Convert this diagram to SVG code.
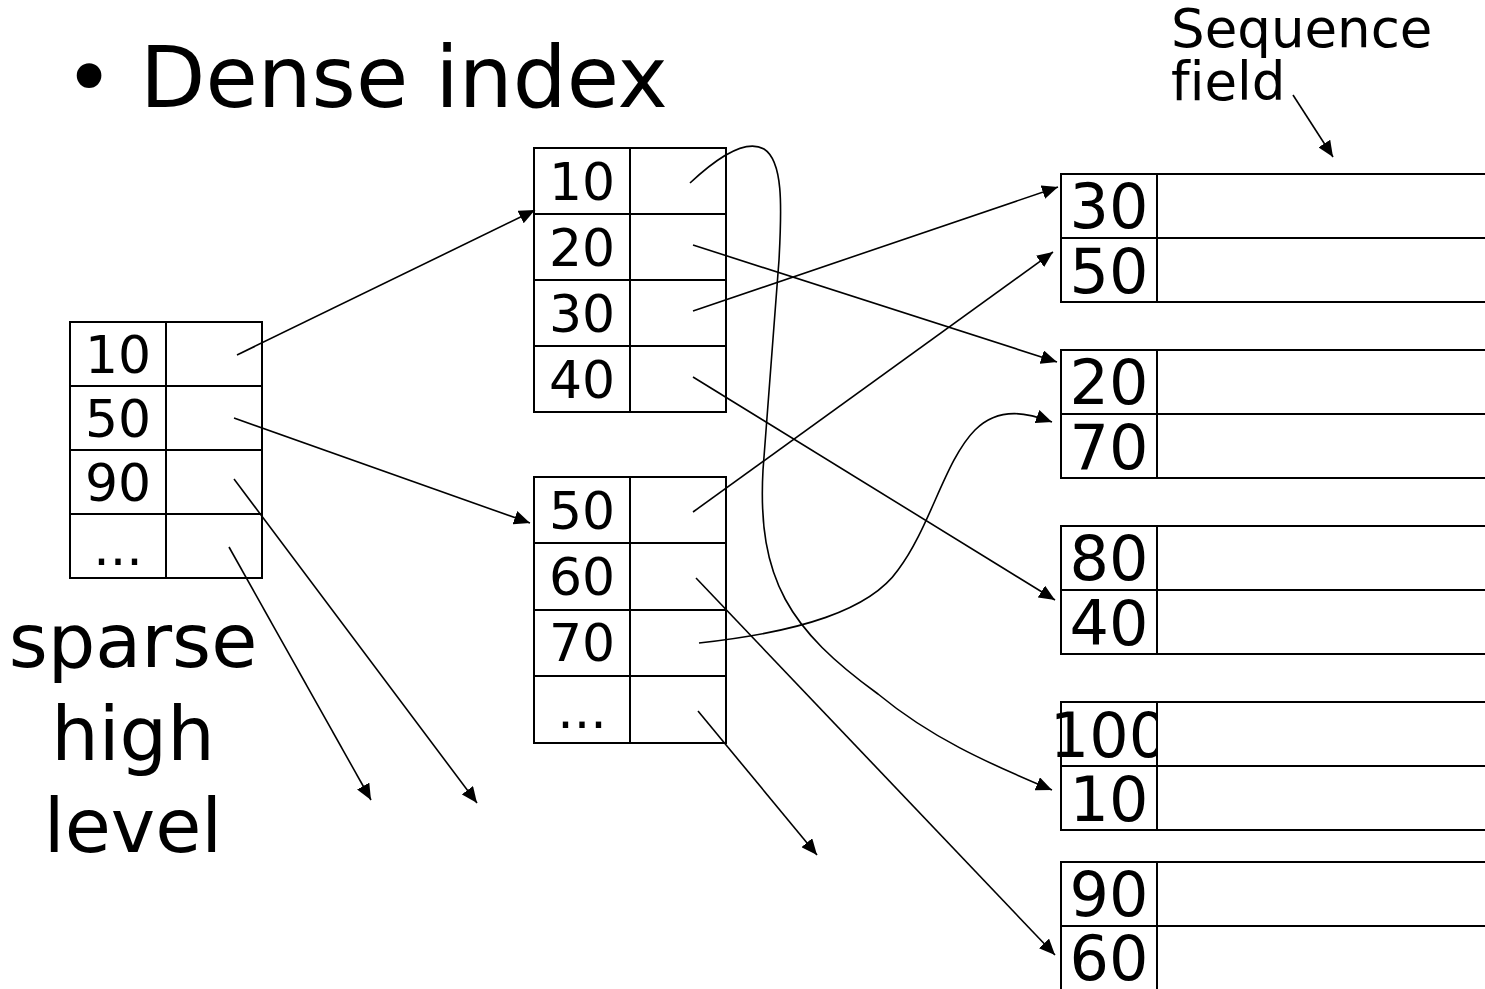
<svg xmlns="http://www.w3.org/2000/svg" width="1485" height="989" viewBox="0 0 1485 989">
<defs>
<marker id="ah" viewBox="0 0 16 14" refX="16" refY="7" markerWidth="16" markerHeight="14" markerUnits="userSpaceOnUse" orient="auto">
<path d="M0,0 L16,7 L0,14 z" fill="#000"/>
</marker>
<style>
.box{fill:#fff;stroke:#000;stroke-width:2}
.ln{fill:none;stroke:#000;stroke-width:2}
.cell{fill:#fff;stroke:#000;stroke-width:2}
.c{fill:none;stroke:#000;stroke-width:1.6;marker-end:url(#ah)}
.t{font-family:"DejaVu Sans","Liberation Sans",sans-serif;fill:#000;font-variant-ligatures:none}
.n{font-size:52px;text-anchor:middle}
.d{font-size:62px;text-anchor:middle}
</style>
</defs>
<rect width="1485" height="989" fill="#fff"/>

<g id="title">
<text class="t" x="64" y="107" font-size="85">•</text>
<text class="t" x="140" y="107" font-size="85">Dense index</text>
</g>

<g id="seqlabel">
<text class="t" x="1171" y="47" font-size="53">Sequence</text>
<text class="t" x="1171" y="100" font-size="53">field</text>
</g>

<g id="sparselabel">
<text class="t" x="133" y="667" font-size="75" text-anchor="middle">sparse</text>
<text class="t" x="133" y="760" font-size="75" text-anchor="middle">high</text>
<text class="t" x="133" y="852" font-size="75" text-anchor="middle">level</text>
</g>

<g id="sparse-index">
<rect class="box" x="70" y="322" width="192" height="256"/>
<path class="ln" d="M166,322 V578 M70,386 H262 M70,450 H262 M70,514 H262"/>
<text class="t n" x="118" y="373">10</text>
<text class="t n" x="118" y="437">50</text>
<text class="t n" x="118" y="501">90</text>
<text class="t n" x="118" y="565">...</text>
</g>

<g id="dense-index-1">
<rect class="box" x="534" y="148" width="192" height="264"/>
<path class="ln" d="M630,148 V412 M534,214 H726 M534,280 H726 M534,346 H726"/>
<text class="t n" x="582" y="200">10</text>
<text class="t n" x="582" y="266">20</text>
<text class="t n" x="582" y="332">30</text>
<text class="t n" x="582" y="398">40</text>
</g>

<g id="dense-index-2">
<rect class="box" x="534" y="477" width="192" height="266"/>
<path class="ln" d="M630,477 V743 M534,543 H726 M534,610 H726 M534,676 H726"/>
<text class="t n" x="582" y="529">50</text>
<text class="t n" x="582" y="595">60</text>
<text class="t n" x="582" y="661">70</text>
<text class="t n" x="582" y="728">...</text>
</g>

<g id="block-1">
<path class="ln" d="M1157,174 H1061 V302 H1157 M1061,238 H1157"/>
<text class="t d" x="1109" y="228">30</text>
<text class="t d" x="1109" y="293">50</text>
<path class="cell" d="M1500,174 H1157 V302 H1500 M1157,238 H1500"/>
</g>
<g id="block-2">
<path class="ln" d="M1157,350 H1061 V478 H1157 M1061,414 H1157"/>
<text class="t d" x="1109" y="404">20</text>
<text class="t d" x="1109" y="469">70</text>
<path class="cell" d="M1500,350 H1157 V478 H1500 M1157,414 H1500"/>
</g>
<g id="block-3">
<path class="ln" d="M1157,526 H1061 V654 H1157 M1061,590 H1157"/>
<text class="t d" x="1109" y="580">80</text>
<text class="t d" x="1109" y="645">40</text>
<path class="cell" d="M1500,526 H1157 V654 H1500 M1157,590 H1500"/>
</g>
<g id="block-4">
<path class="ln" d="M1157,702 H1061 V830 H1157 M1061,766 H1157"/>
<text class="t d" x="1109" y="757">100</text>
<text class="t d" x="1109" y="821">10</text>
<path class="cell" d="M1500,702 H1157 V830 H1500 M1157,766 H1500"/>
</g>
<g id="block-5">
<path class="ln" d="M1157,862 H1061 V995 M1061,926 H1157"/>
<text class="t d" x="1109" y="916">90</text>
<text class="t d" x="1109" y="980">60</text>
<path class="cell" d="M1500,862 H1157 V995 H1500 M1157,926 H1500"/>
</g>

<g id="connectors">
<path class="c" d="M1293,95 L1333,157"/>
<path class="c" d="M237,355 L535,210"/>
<path class="c" d="M234,418 L530,523"/>
<path class="c" d="M234,479 L477,803"/>
<path class="c" d="M229,547 L371,800"/>
<path class="c" d="M690,183 C722,153 748,140 764,149 C783,161 782,205 779,260 L763,470 C757,580 790,630 878,694 C930,737 985,762 1052,790"/>
<path class="c" d="M693,245 L1057,362"/>
<path class="c" d="M693,311 L1058,187"/>
<path class="c" d="M693,377 L1055,600"/>
<path class="c" d="M693,512 L1053,252"/>
<path class="c" d="M696,578 L1055,955"/>
<path class="c" d="M699,643 C800,632 870,610 898,570 C930,528 945,460 975,430 C1000,405 1030,414 1052,422"/>
<path class="c" d="M698,711 L817,855"/>
</g>
</svg>
